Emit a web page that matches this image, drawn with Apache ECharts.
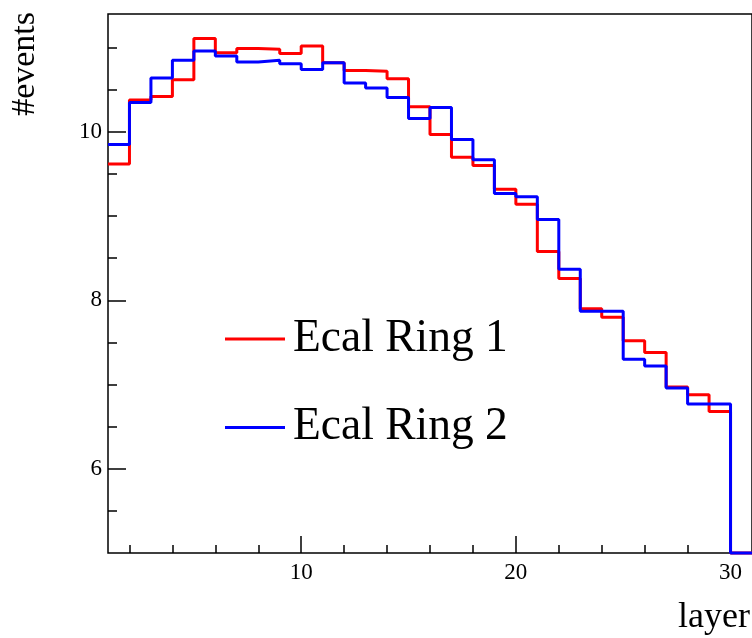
<!DOCTYPE html>
<html>
<head>
<meta charset="utf-8">
<script src="https://cdn.jsdelivr.net/npm/echarts@6/dist/echarts.min.js"></script>
<style>
html,body{margin:0;padding:0;background:#fff;}
#chart{width:752px;height:638px;}
</style>
</head>
<body>
<div id="chart"></div>
<script>
// bin low edges (layer), each bin is 1 wide
const layerEdges = [1,2,3,4,5,6,7,8,9,10,11,12,13,14,15,16,17,18,19,20,21,22,23,24,25,26,27,28,29,30];
const seriesNames = ['Ecal Ring 1', 'Ecal Ring 2'];
const ring1 = [9.62,10.38,10.42,10.62,11.11,10.94,10.99,10.98,10.93,11.02,10.82,10.73,10.72,10.63,10.30,9.97,9.70,9.60,9.32,9.14,8.58,8.26,7.90,7.80,7.52,7.38,6.97,6.88,6.68,0];
const ring2 = [9.85,10.35,10.64,10.85,10.96,10.90,10.83,10.85,10.81,10.74,10.82,10.58,10.52,10.41,10.16,10.29,9.91,9.67,9.27,9.23,8.96,8.37,7.87,7.87,7.30,7.22,6.96,6.77,6.77,0];
const xMajorTicks = [10,20,30];
const xMinorTicks = [2,4,6,8,12,14,16,18,22,24,26,28];
const yMajorTicks = [6,8,10];
const yMinorTicks = [5.5,6.5,7,7.5,8.5,9,9.5,10.5,11];

const X_MIN = 1, X_MAX = 31, Y_MIN = 5, Y_MAX = 11.4;

function stepData(vals){
  const pts = layerEdges.map((e,i)=>[e, Math.max(vals[i], Y_MIN)]);
  const last = layerEdges.length-1;
  pts.push([layerEdges[last]+1, Math.max(vals[last], Y_MIN)]);
  return pts;
}

const font = 'Liberation Serif, Times New Roman, serif';
const chart = echarts.init(document.getElementById('chart'), null, {renderer:'canvas'});
chart.setOption({
  animation:false,
  backgroundColor:'#fff',
  grid:{left:108, top:14, right:0, bottom:85, show:true, borderColor:'#000', borderWidth:1.5, backgroundColor:'transparent'},
  legend:{
    orient:'vertical', left:220, top:311, itemWidth:60, itemHeight:3, itemGap:42.5,
    icon:'rect',
    textStyle:{fontFamily:font, fontSize:45.5, color:'#000', padding:[0,0,0,3]},
    data:seriesNames
  },
  xAxis:[
    {type:'value', min:X_MIN, max:X_MAX, position:'bottom',
     axisLine:{show:false}, splitLine:{show:false},
     axisTick:{show:true, inside:true, length:17, customValues:xMajorTicks, lineStyle:{color:'#000', width:1.5}},
     axisLabel:{customValues:xMajorTicks, fontFamily:font, fontSize:23, color:'#000', margin:8}},
    {type:'value', min:X_MIN, max:X_MAX, position:'bottom',
     axisLine:{show:false}, splitLine:{show:false},
     axisTick:{show:true, inside:true, length:8, customValues:xMinorTicks, lineStyle:{color:'#000', width:1.5}},
     axisLabel:{show:false}}
  ],
  yAxis:[
    {type:'value', min:Y_MIN, max:Y_MAX, position:'left',
     axisLine:{show:false}, splitLine:{show:false},
     axisTick:{show:true, inside:true, length:18, customValues:yMajorTicks, lineStyle:{color:'#000', width:1.5}},
     axisLabel:{customValues:yMajorTicks, fontFamily:font, fontSize:23, color:'#000', margin:6}},
    {type:'value', min:Y_MIN, max:Y_MAX, position:'left',
     axisLine:{show:false}, splitLine:{show:false},
     axisTick:{show:true, inside:true, length:9, customValues:yMinorTicks, lineStyle:{color:'#000', width:1.5}},
     axisLabel:{show:false}}
  ],
  graphic:[
    {type:'text', x:25, y:12, rotation:Math.PI/2,
     style:{text:'#events', font:'34px ' + font, fill:'#000', textAlign:'right', textVerticalAlign:'middle'}},
    {type:'text', x:750, y:618,
     style:{text:'layer', font:'36px ' + font, fill:'#000', textAlign:'right', textVerticalAlign:'middle'}}
  ],
  series:[
    {name:seriesNames[0], type:'line', step:'end', symbol:'none', clip:false,
     xAxisIndex:0, yAxisIndex:0, color:'#ff0000',
     lineStyle:{color:'#ff0000', width:3}, data:stepData(ring1)},
    {name:seriesNames[1], type:'line', step:'end', symbol:'none', clip:false,
     xAxisIndex:0, yAxisIndex:0, color:'#0000ff',
     lineStyle:{color:'#0000ff', width:3}, data:stepData(ring2)}
  ]
});
</script>
</body>
</html>
